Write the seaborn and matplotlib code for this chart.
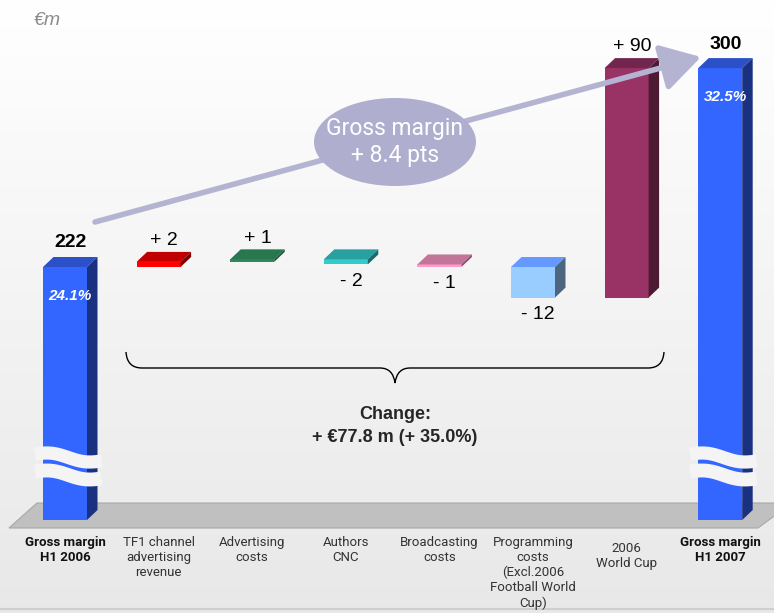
import numpy as np
import matplotlib
matplotlib.use("Agg")
import matplotlib.pyplot as plt
import seaborn as sns
from matplotlib.patches import Polygon, Ellipse, FancyArrowPatch, PathPatch
from matplotlib.path import Path

# ---------------- data ----------------
categories = ["Gross margin\nH1 2006", "TF1 channel\nadvertising\nrevenue", "Advertising\ncosts",
              "Authors\nCNC", "Broadcasting\ncosts",
              "Programming\ncosts\n(Excl.2006\nFootball World\nCup)", "2006\nWorld Cup",
              "Gross margin\nH1 2007"]
values = [222, 2, 1, -2, -1, -12, 90, 300]
value_labels = ["222", "+ 2", "+ 1", "- 2", "- 1", "- 12", "+ 90", "300"]
margin_pct = ["24.1%", "32.5%"]
unit_label = "€m"
bubble_text = "Gross margin\n+ 8.4 pts"
change_text = ["Change:", "+ €77.8 m (+ 35.0%)"]

# ---------------- style ----------------
front_c = ["#3366ff", "#ff0000", "#2f8a58", "#33cccc", "#ff99cc", "#99ccff", "#993366", "#3366ff"]
top_c = ["#2b50c8", "#c00000", "#277850", "#28a0a0", "#c27599", "#6699ff", "#73264d", "#2b50c8"]
side_c = ["#1a3080", "#800000", "#1c5236", "#1a6b6b", "#80506a", "#4d6680", "#4d1a33", "#1a3080"]
label_drop_px = [0, 0, 0, 0, 0, 0, 6, 0]

sns.set_theme(style="white")
plt.rcParams['font.family'] = ['Liberation Sans', 'DejaVu Sans']
NARROW = ['Roboto', 'Liberation Sans', 'DejaVu Sans']

W, H = 774, 613
fig = plt.figure(figsize=(W / 100, H / 100), dpi=100)

# background gradient
bg = fig.add_axes([0, 0, 1, 1])
grad = np.linspace(0, 1, 256).reshape(-1, 1)
top_rgb = np.array([1.0, 1.0, 1.0])
bot_rgb = np.array([0.91, 0.91, 0.91])
img = top_rgb + (bot_rgb - top_rgb) * grad
bg.imshow(img[:, None, :].repeat(2, axis=1), aspect='auto', extent=[0, 1, 0, 1])
bg.axis('off')

ax = fig.add_axes([0, 0, 1, 1])
ax.patch.set_alpha(0)
ax.axis('off')

# pixel <-> data scale (layout)
X0_PX, SX = 65.0, 93.6
Y_REF_PX, SY = 267.0, 2.55
Y_REF_V = values[0]


def px(x, y):
    return ((x - X0_PX) / SX, Y_REF_V + (Y_REF_PX - y) / SY)


ax.set_xlim(px(0, 0)[0], px(W, 0)[0])
ax.set_ylim(px(0, H)[1], px(0, 0)[1])

BW = 44 / SX
DX = 10.5 / SX
DY = 10 / SY
BASE = px(0, 520)[1]

# floor
floor = [px(9, 528), px(758, 528), px(792, 503), px(37, 503)]
ax.add_patch(Polygon(floor, closed=True, facecolor="#c0c0c0", edgecolor="#a8a8a8", lw=0.8, zorder=1))

# bottom frame line
ax.plot([px(0, 609)[0], px(W, 609)[0]], [px(0, 609)[1]] * 2, color="#cfcfcf", lw=1.5, zorder=1)

# bars
n = len(values)
cum = 0
for i, v in enumerate(values):
    if i == 0 or i == n - 1:
        lo, hi = BASE, v
        cum = v
    else:
        lo, hi = min(cum, cum + v), max(cum, cum + v)
        cum += v
    ax.bar(i, hi - lo, bottom=lo, width=BW, color=front_c[i], edgecolor='none', zorder=2)
    x0, x1 = i - BW / 2, i + BW / 2
    ax.add_patch(Polygon([(x0, hi), (x1, hi), (x1 + DX, hi + DY), (x0 + DX, hi + DY)],
                         closed=True, facecolor=top_c[i], edgecolor='none', zorder=2))
    ax.add_patch(Polygon([(x1, lo), (x1 + DX, lo + DY), (x1 + DX, hi + DY), (x1, hi)],
                         closed=True, facecolor=side_c[i], edgecolor='none', zorder=2))

    # value labels
    if i == 0 or i == n - 1:
        ax.annotate(value_labels[i], (i + DX / 2, hi + DY), xytext=(0, 4), textcoords='offset points',
                    ha='center', va='bottom', fontsize=14, fontweight='bold', color='black', zorder=6)
        ax.annotate(margin_pct[0 if i == 0 else 1], (i + DX / 2, hi), xytext=(0, -21),
                    textcoords='offset points', ha='center', va='center', fontsize=11,
                    fontweight='bold', fontstyle='italic', color='white', zorder=6)
    elif v > 0:
        ax.annotate(value_labels[i], (i + DX / 2, hi + DY), xytext=(0, 2), textcoords='offset points',
                    ha='center', va='bottom', fontsize=14, color='black', zorder=6)
    else:
        ax.annotate(value_labels[i], (i + DX / 2, lo), xytext=(0, -6), textcoords='offset points',
                    ha='center', va='top', fontsize=14, color='black', zorder=6)

# broken-axis waves on total bars
t = np.linspace(0, 1, 60)
for i in (0, n - 1):
    xs = np.linspace(i - BW / 2 - 8 / SX, i + BW / 2 + DX + 4 / SX, 60)
    for c, lw in ((454, 9.5), (471.5, 10)):
        ys_px = c + 7 * t - 2.5 * np.sin(2 * np.pi * t)
        ys = Y_REF_V + (Y_REF_PX - ys_px) / SY
        ax.plot(xs, ys, color='#f4f4f4', lw=lw, solid_capstyle='butt', zorder=3)

# category labels
for i, cat in enumerate(categories):
    bold = (i == 0 or i == n - 1)
    ax.text(i, px(0, 536 + label_drop_px[i])[1], cat, ha='center', va='top', fontsize=9.5, family=NARROW,
            fontweight='bold' if bold else 'normal', color='#111111' if bold else '#333333',
            linespacing=1.2, zorder=6)

# unit
ax.text(*px(47, 20), unit_label, ha='center', va='center', fontsize=14, fontstyle='italic',
        color='#8c8c8c', zorder=6)

# arrow
arr = FancyArrowPatch(px(95, 222), px(701, 57), arrowstyle='-|>,head_length=1.1,head_width=0.65',
                      mutation_scale=22, color='#b4b4d2', lw=4, zorder=4, shrinkA=0, shrinkB=0)
ax.add_patch(arr)

# bubble
cx, cy = px(395, 142)
ax.add_patch(Ellipse((cx, cy), 162 / SX, 88 / SY, facecolor='#afaecf', edgecolor='none', zorder=5))
ax.text(cx, cy, bubble_text, ha='center', va='center', fontsize=16.5, family=NARROW, color='white',
        linespacing=1.2, zorder=6)

# brace
pts_px = [(126, 352), (127, 368), (142, 368), (380, 368), (393, 368), (395, 383),
          (397, 368), (410, 368), (648, 368), (663, 368), (664, 352)]
codes = [Path.MOVETO, Path.CURVE3, Path.CURVE3, Path.LINETO, Path.CURVE3, Path.CURVE3,
         Path.CURVE3, Path.CURVE3, Path.LINETO, Path.CURVE3, Path.CURVE3]
brace = Path([px(*p) for p in pts_px], codes)
ax.add_patch(PathPatch(brace, facecolor='none', edgecolor='black', lw=1.0, zorder=5))

ax.text(*px(395, 414), change_text[0], ha='center', va='center', fontsize=13, fontweight='bold', zorder=6)
ax.text(*px(395, 437), change_text[1], ha='center', va='center', fontsize=13, fontweight='bold', zorder=6)

fig.savefig("out.png", dpi=100)
